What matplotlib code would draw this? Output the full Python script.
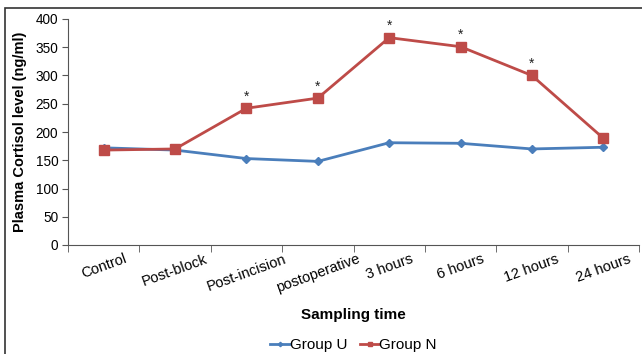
import matplotlib.pyplot as plt
from matplotlib.patches import Rectangle
import numpy as np

plt.rcParams['font.family'] = ['Liberation Sans', 'DejaVu Sans']

categories = ['Control', 'Post-block', 'Post-incision', 'postoperative',
              '3 hours', '6 hours', '12 hours', '24 hours']
group_u = [172, 168, 153, 148, 181, 180, 170, 173]
group_n = [168, 170, 242, 260, 367, 351, 300, 189]
significant = [False, False, True, True, True, True, True, False]

blue = '#4a7ebb'
red = '#be4b48'

fig = plt.figure(figsize=(6.42, 3.54), dpi=100)
ax = fig.add_axes([68 / 642, 1 - 245 / 354, 571 / 642, 226 / 354])

x = np.arange(len(categories))
ax.plot(x, group_u, color=blue, lw=2, marker='D', ms=4.5, label='Group U', zorder=3)
ax.plot(x, group_n, color=red, lw=2, marker='s', ms=6.5, label='Group N', zorder=3)

for xi, v, s in zip(x, group_n, significant):
    if s:
        ax.text(xi, v + 8, '*', ha='center', va='bottom', fontsize=10, color='#222222')

ax.set_xlim(-0.5, len(categories) - 0.5)
ax.set_ylim(0, 400)
ax.set_yticks(range(0, 401, 50))
ax.set_xticks(x)
ax.set_xticklabels(categories, rotation=20, ha='center', fontsize=10.5)
ax.set_xticks(np.arange(-0.5, len(categories)), minor=True)
ax.tick_params(axis='x', which='major', length=0, pad=5)
ax.tick_params(axis='x', which='minor', length=5, color='#555555')
ax.tick_params(axis='y', length=4, color='#555555', labelsize=9.8, pad=3)

for side in ['top', 'right']:
    ax.spines[side].set_visible(False)
for side in ['left', 'bottom']:
    ax.spines[side].set_color('#555555')

ax.set_ylabel('Plasma Cortisol level (ng/ml)', fontsize=10.5, fontweight='bold', labelpad=6)
ax.set_xlabel('Sampling time', fontsize=11, fontweight='bold', labelpad=9)

ax.legend(loc='upper center', bbox_to_anchor=(0.5, -0.385), ncol=2, frameon=False,
          fontsize=11, handlelength=1.3, handletextpad=0.0, columnspacing=0.8,
          borderaxespad=0, markerscale=0.5)

fig.patches.append(Rectangle((5 / 642, -0.1), 1.2, 1.1 - 8 / 354, transform=fig.transFigure,
                             fill=False, edgecolor='#333333', lw=1.2))

fig.savefig('out.png', dpi=100, facecolor='white')
